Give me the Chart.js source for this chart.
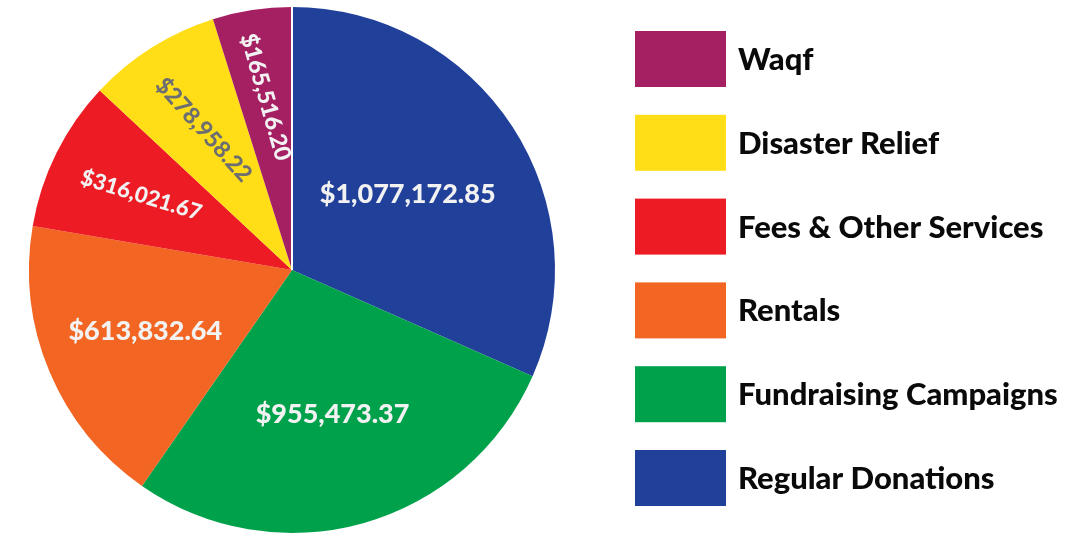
<!DOCTYPE html>
<html>
<head>
<meta charset="utf-8">
<script src="https://cdn.jsdelivr.net/npm/chart.js@4"></script>
<style>
    html, body { margin: 0; padding: 0; background: #fff; }
    #wrap { width: 1091px; height: 536px; position: relative; }
</style>
</head>
<body>
<div id="wrap"><canvas id="incomeChart" width="1091" height="536"></canvas></div>
<script>
// Income sources, clockwise from 12 o'clock
const categories = [
    "Regular Donations",
    "Fundraising Campaigns",
    "Rentals",
    "Fees & Other Services",
    "Disaster Relief",
    "Waqf"
];
const amounts = [1077172.85, 955473.37, 613832.64, 316021.67, 278958.22, 165516.20];
const sliceColors = ["#21409A", "#00A14B", "#F26522", "#ED1C24", "#FFDE17", "#A51F63"];

// Dollar formatter
const moneyFormat = (value) =>
    new Intl.NumberFormat("en-US", {
        style: "currency",
        currency: "USD",
        minimumFractionDigits: 2,
    }).format(value);

// Slice labels: distance from centre (share of radius), rotation, size, colour
const sliceLabels = {
    id: "sliceLabels",
    afterDatasetsDraw(chart, args, opts) {
        const ctx = chart.ctx;
        const meta = chart.getDatasetMeta(0);
        meta.data.forEach((arc, i) => {
            const mid = (arc.startAngle + arc.endAngle) / 2;
            const r = arc.outerRadius * opts.radius[i];
            const x = arc.x + Math.cos(mid) * r;
            const y = arc.y + Math.sin(mid) * r;
            ctx.save();
            ctx.translate(x, y);
            ctx.rotate(opts.rotation[i] * Math.PI / 180);
            ctx.font = "900 " + opts.size[i] + "px Lato, 'Open Sans', sans-serif";
            ctx.fillStyle = opts.color[i];
            ctx.textAlign = "center";
            ctx.textBaseline = "middle";
            ctx.fillText(moneyFormat(chart.data.datasets[0].data[i]), 0, 0);
            ctx.restore();
        });
        // thin white seam where the last slice meets the first
        const last = meta.data[meta.data.length - 1];
        ctx.save();
        ctx.strokeStyle = "#ffffff";
        ctx.lineWidth = 2;
        ctx.beginPath();
        ctx.moveTo(last.x, last.y);
        ctx.lineTo(last.x + Math.cos(last.endAngle) * last.outerRadius,
                   last.y + Math.sin(last.endAngle) * last.outerRadius);
        ctx.stroke();
        ctx.restore();
    }
};

// Legend on the right, listed from the last slice to the first
const sideLegend = {
    id: "sideLegend",
    afterDraw(chart, args, opts) {
        const ctx = chart.ctx;
        const labels = chart.data.labels.slice().reverse();
        const colors = chart.data.datasets[0].backgroundColor.slice().reverse();
        ctx.save();
        labels.forEach((label, i) => {
            const y = opts.top + i * opts.step;
            ctx.fillStyle = colors[i];
            ctx.fillRect(opts.left, y, opts.boxWidth, opts.boxHeight);
            ctx.fillStyle = "#0a0a0a";
            ctx.font = "900 31px Lato, 'Open Sans', sans-serif";
            ctx.textAlign = "left";
            ctx.textBaseline = "middle";
            ctx.fillText(label, opts.textLeft, y + opts.boxHeight / 2 + 1);
        });
        ctx.restore();
    }
};

const ctx = document.getElementById("incomeChart").getContext("2d");
new Chart(ctx, {
    type: "pie",
    data: {
        labels: categories,
        datasets: [
            {
                data: amounts,
                backgroundColor: sliceColors,
                borderWidth: 0,
            },
        ],
    },
    options: {
        responsive: false,
        animation: false,
        layout: {
            padding: { left: 29, right: 536, top: 7, bottom: 3 }
        },
        plugins: {
            legend: { display: false },
            tooltip: { enabled: false },
            sliceLabels: {
                radius: [0.525, 0.57, 0.605, 0.64, 0.63, 0.665],
                rotation: [0, 0, 0, 17, 48, 74],
                size: [27, 27, 27, 22, 23, 23],
                color: ["#f2f2f2", "#f2f2f2", "#f2f2f2", "#f2f2f2", "#6d6e71", "#f2f2f2"]
            },
            sideLegend: {
                left: 635,
                top: 31,
                step: 83.8,
                boxWidth: 91,
                boxHeight: 56,
                textLeft: 738
            }
        },
    },
    plugins: [sliceLabels, sideLegend],
});
</script>
</body>
</html>
